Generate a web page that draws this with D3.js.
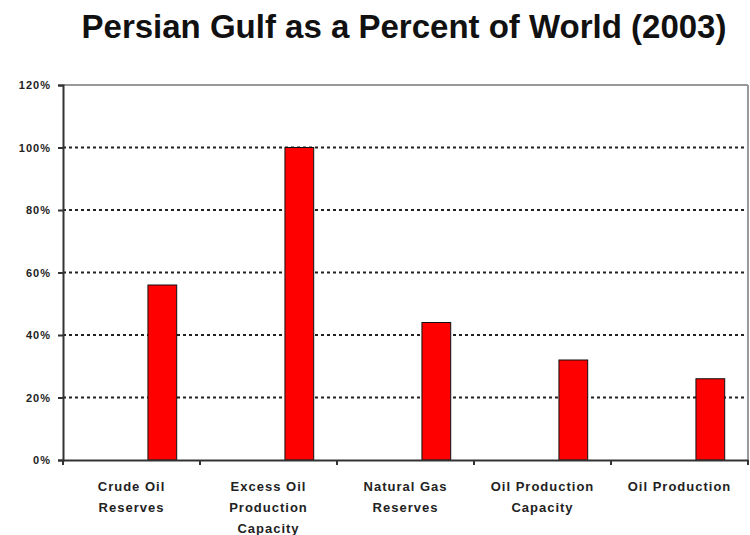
<!DOCTYPE html>
<html>
<head>
<meta charset="utf-8">
<script src="https://cdn.jsdelivr.net/npm/d3@7"></script>
<style>
  body { margin: 0; background: #fff; }
  svg text { font-family: "Liberation Sans", Arial, sans-serif; }
</style>
</head>
<body>
<svg id="chart" width="750" height="535"></svg>
<script>
var categories = [["Crude Oil", "Reserves"], ["Excess Oil", "Production", "Capacity"],
  ["Natural Gas", "Reserves"], ["Oil Production", "Capacity"], ["Oil Production"]];
var values = [56, 100, 44, 32, 26];
var yTicks = [0, 20, 40, 60, 80, 100, 120];

var margin = {top: 85, right: 2, bottom: 75, left: 63};
var svg = d3.select("svg#chart");
var width = 750 - margin.left - margin.right;
var height = 535 - margin.top - margin.bottom;

svg.append("text")
  .attr("x", 404).attr("y", 38)
  .attr("text-anchor", "middle")
  .style("font-size", "33px").style("font-weight", "bold").style("fill", "#111")
  .text("Persian Gulf as a Percent of World (2003)");

var x = d3.scaleBand().domain(d3.range(categories.length)).range([0, width]);
var y = d3.scaleLinear().domain([0, 120]).range([height, 0]);

var g = svg.append("g")
  .attr("transform", "translate(" + margin.left + "," + margin.top + ")");

// grid lines
g.selectAll(".grid")
  .data(yTicks.filter(function(d) { return d > 0 && d < 120; }))
  .enter().append("line")
  .attr("x1", 0).attr("x2", width)
  .attr("y1", function(d) { return y(d); }).attr("y2", function(d) { return y(d); })
  .attr("stroke", "#222").attr("stroke-width", 2).attr("stroke-dasharray", "3,3");

// plot frame top and right
g.append("line").attr("x1", 0).attr("x2", width).attr("y1", 0).attr("y2", 0)
  .attr("stroke", "#999").attr("stroke-width", 2);
g.append("line").attr("x1", width).attr("x2", width).attr("y1", 0).attr("y2", height)
  .attr("stroke", "#999").attr("stroke-width", 2);

// bars (offset right inside each band)
g.selectAll(".bar")
  .data(values)
  .enter().append("rect")
  .attr("x", function(d, i) { return x(i) + x.bandwidth() * 0.62; })
  .attr("width", x.bandwidth() * 0.21)
  .attr("y", function(d) { return y(d); })
  .attr("height", function(d) { return height - y(d); })
  .attr("fill", "#ff0000").attr("stroke", "#111").attr("stroke-width", 1);

// y axis
var yAxis = g.append("g")
  .call(d3.axisLeft(y).tickValues(yTicks).tickSize(5).tickFormat(function(d) { return d + "%"; }));
yAxis.select(".domain").attr("stroke", "#333").attr("stroke-width", 2);
yAxis.selectAll(".tick line").attr("stroke", "#333").attr("stroke-width", 2);
yAxis.selectAll(".tick text")
  .attr("x", -12)
  .style("font-size", "11px").style("font-weight", "bold").style("fill", "#222")
  .style("letter-spacing", "1px");

// x axis
var xAxis = g.append("g")
  .attr("transform", "translate(0," + height + ")")
  .call(d3.axisBottom(x).tickSize(0).tickFormat(""));
xAxis.select(".domain").attr("stroke", "#333").attr("stroke-width", 2);
g.selectAll(".xtick")
  .data(d3.range(categories.length + 1))
  .enter().append("line")
  .attr("x1", function(d) { return d * x.step(); }).attr("x2", function(d) { return d * x.step(); })
  .attr("y1", height).attr("y2", height + 5)
  .attr("stroke", "#333").attr("stroke-width", 2);

var labels = g.selectAll(".xlabel")
  .data(categories)
  .enter().append("text")
  .attr("text-anchor", "middle")
  .attr("transform", function(d, i) { return "translate(" + (x(i) + x.bandwidth() / 2) + "," + (height + 31) + ")"; })
  .style("font-size", "13px").style("font-weight", "bold").style("fill", "#222")
  .style("letter-spacing", "1px");
labels.selectAll("tspan")
  .data(function(d) { return d; })
  .enter().append("tspan")
  .attr("x", 0)
  .attr("dy", function(d, i) { return i === 0 ? 0 : 21; })
  .text(function(d) { return d; });
</script>
</body>
</html>
